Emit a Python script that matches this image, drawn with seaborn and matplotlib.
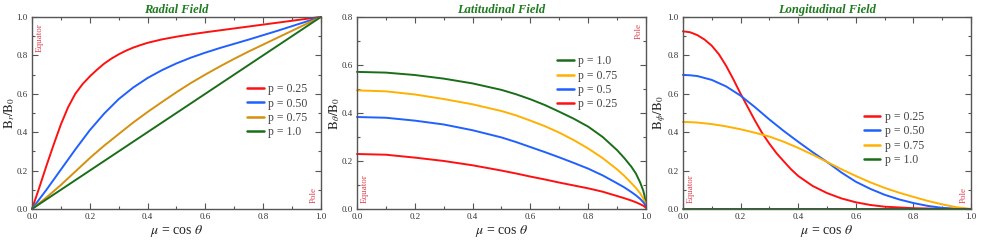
import numpy as np
import pandas as pd
import matplotlib
matplotlib.use('Agg')
import matplotlib.pyplot as plt
import seaborn as sns
from matplotlib.ticker import MultipleLocator

mu = [0.0, 0.025, 0.05, 0.1, 0.15, 0.2, 0.25, 0.3, 0.35, 0.4, 0.45, 0.5, 0.55,
      0.6, 0.65, 0.7, 0.75, 0.8, 0.85, 0.9, 0.95, 1.0]
mu_fine = [0.0, 0.025, 0.05, 0.075, 0.1, 0.125, 0.15, 0.175, 0.2, 0.225, 0.25, 0.275,
           0.3, 0.325, 0.35, 0.375, 0.4, 0.45, 0.5, 0.55, 0.6, 0.65, 0.7, 0.8, 0.9, 1.0]

# radial field
rad_p025 = [0.0, 0.11, 0.225, 0.335, 0.44, 0.53, 0.60, 0.65, 0.69, 0.725, 0.757, 0.783,
            0.805, 0.824, 0.84, 0.853, 0.865, 0.883, 0.897, 0.909, 0.92, 0.93, 0.94, 0.96, 0.98, 1.0]
rad_p050 = [0.0, 0.05, 0.10, 0.205, 0.31, 0.41, 0.497, 0.572, 0.632, 0.682, 0.723, 0.758, 0.788,
            0.814, 0.838, 0.86, 0.882, 0.905, 0.928, 0.952, 0.976, 1.0]
rad_p075 = [0.0, 0.03, 0.06, 0.125, 0.195, 0.265, 0.33, 0.39, 0.45, 0.505, 0.557, 0.608, 0.656,
            0.7, 0.742, 0.782, 0.82, 0.856, 0.892, 0.928, 0.964, 1.0]
rad_p100 = [0.0, 0.025, 0.05, 0.1, 0.15, 0.2, 0.25, 0.3, 0.35, 0.4, 0.45, 0.5, 0.55,
            0.6, 0.65, 0.7, 0.75, 0.8, 0.85, 0.9, 0.95, 1.0]

# latitudinal field (denser near the pole)
mu_lat = [0.0, 0.1, 0.2, 0.3, 0.4, 0.5, 0.55, 0.6, 0.65, 0.7, 0.75, 0.8, 0.85, 0.9, 0.925,
          0.95, 0.965, 0.98, 0.99, 0.995, 1.0]
lat_p100 = [0.571, 0.568, 0.558, 0.543, 0.523, 0.496, 0.478, 0.457, 0.433, 0.405, 0.376,
            0.343, 0.300, 0.245, 0.212, 0.175, 0.148, 0.11, 0.078, 0.055, 0.01]
lat_p075 = [0.494, 0.490, 0.477, 0.458, 0.436, 0.408, 0.39, 0.368, 0.345, 0.318, 0.287,
            0.252, 0.212, 0.165, 0.138, 0.107, 0.088, 0.065, 0.045, 0.032, 0.01]
lat_p050 = [0.383, 0.380, 0.368, 0.352, 0.328, 0.298, 0.279, 0.258, 0.237, 0.215, 0.192,
            0.168, 0.140, 0.107, 0.09, 0.070, 0.057, 0.042, 0.029, 0.021, 0.008]
lat_p025 = [0.229, 0.226, 0.214, 0.200, 0.182, 0.160, 0.148, 0.135, 0.123, 0.110, 0.098,
            0.086, 0.072, 0.054, 0.045, 0.035, 0.028, 0.020, 0.014, 0.01, 0.004]

# longitudinal field
lon_p025 = [0.925, 0.92, 0.905, 0.882, 0.85, 0.805, 0.745, 0.675, 0.60, 0.53, 0.46, 0.395,
            0.34, 0.29, 0.248, 0.207, 0.172, 0.12, 0.083, 0.055, 0.035, 0.021, 0.012, 0.004, 0.001, 0.0]
lon_p050 = [0.698, 0.696, 0.692, 0.672, 0.638, 0.59, 0.53, 0.466, 0.406, 0.35, 0.296, 0.245, 0.19,
            0.142, 0.105, 0.074, 0.05, 0.031, 0.016, 0.006, 0.001, 0.0]
lon_p075 = [0.453, 0.452, 0.45, 0.442, 0.43, 0.415, 0.397, 0.377, 0.35, 0.318, 0.283, 0.245, 0.207,
            0.172, 0.139, 0.11, 0.085, 0.063, 0.042, 0.024, 0.009, 0.0]
lon_p100 = [0.0] * 22

sns.set_style('ticks')
plt.rcParams['font.family'] = ['Liberation Serif', 'DejaVu Serif']
plt.rcParams['mathtext.fontset'] = 'stix'

red, blue, green = '#ff1010', '#2060ff', '#1a6e1a'
gold, orange = '#d4900f', '#ffb000'
edge = '#555555'


def long_df(series):
    rows = []
    for lab, xs, ys in series:
        for xi, yi in zip(xs, ys):
            rows.append({'mu': xi, 'B': yi, 'p': lab})
    return pd.DataFrame(rows)


fig = plt.figure(figsize=(9.81, 2.45), dpi=100)
axes = [fig.add_axes([0.0326, 0.147, 0.2946, 0.784]),
        fig.add_axes([0.3639, 0.147, 0.2946, 0.784]),
        fig.add_axes([0.6962, 0.147, 0.2936, 0.784])]

panels = [
    ('Radial Field', r'$\mathrm{B}_r/\mathrm{B}_0$', 1.0,
     [('p = 0.25', mu_fine, rad_p025), ('p = 0.50', mu, rad_p050),
      ('p = 0.75', mu, rad_p075), ('p = 1.0', mu, rad_p100)],
     [red, blue, gold, green], (0.744, 0.655)),
    ('Latitudinal Field', r'$\mathrm{B}_\theta/\mathrm{B}_0$', 0.8,
     [('p = 1.0', mu_lat, lat_p100), ('p = 0.75', mu_lat, lat_p075),
      ('p = 0.5', mu_lat, lat_p050), ('p = 0.25', mu_lat, lat_p025)],
     [green, orange, blue, red], (0.692, 0.80)),
    ('Longitudinal Field', r'$\mathrm{B}_\phi/\mathrm{B}_0$', 1.0,
     [('p = 0.25', mu_fine, lon_p025), ('p = 0.50', mu, lon_p050),
      ('p = 0.75', mu, lon_p075), ('p = 1.0', mu, lon_p100)],
     [red, blue, orange, green], (0.628, 0.51)),
]

for ax, (title, ylab, ymax, series, cols, legpos) in zip(axes, panels):
    df = long_df(series)
    order = [s[0] for s in series]
    sns.lineplot(data=df, x='mu', y='B', hue='p', hue_order=order,
                 palette=dict(zip(order, cols)), sort=False, lw=1.4,
                 ax=ax, clip_on=False)
    ax.set_xlim(0, 1)
    ax.set_ylim(0, ymax)
    ax.xaxis.set_major_locator(MultipleLocator(0.2))
    ax.xaxis.set_minor_locator(MultipleLocator(0.1))
    ax.yaxis.set_major_locator(MultipleLocator(0.2))
    ax.yaxis.set_minor_locator(MultipleLocator(0.1))
    ax.xaxis.set_major_formatter(plt.FormatStrFormatter('%.1f'))
    ax.yaxis.set_major_formatter(plt.FormatStrFormatter('%.1f'))
    ax.tick_params(which='both', direction='in', top=True, right=True,
                   color=edge, labelsize=6.5, labelcolor='#333333', pad=3)
    ax.tick_params(which='major', length=4, width=0.8)
    ax.tick_params(which='minor', length=2, width=0.8)
    for s in ax.spines.values():
        s.set_color(edge)
        s.set_linewidth(1.0)
    ax.set_xlabel(r'$\mu$ = cos $\theta$', fontsize=10, labelpad=1, color='#222222')
    ax.set_ylabel(ylab, fontsize=9.5, labelpad=0, color='#222222')
    ax.set_title(title, fontsize=9, fontweight='bold', style='italic',
                 color='#1e7b1e', pad=3)
    ax.legend(frameon=False, fontsize=8.5, loc='upper left', bbox_to_anchor=legpos,
              handlelength=1.4, handletextpad=0.4, labelspacing=0.2,
              borderaxespad=0, borderpad=0, labelcolor='#444444')
    for line in ax.get_legend().get_lines():
        line.set_linewidth(1.8)

lab_kw = dict(rotation=90, fontsize=6.5, color='#e04050')
axes[0].text(0.012, 0.97, 'Equator', transform=axes[0].transAxes, ha='left', va='top', **lab_kw)
axes[0].text(0.99, 0.03, 'Pole', transform=axes[0].transAxes, ha='right', va='bottom', **lab_kw)
axes[1].text(0.012, 0.03, 'Equator', transform=axes[1].transAxes, ha='left', va='bottom', **lab_kw)
axes[1].text(0.99, 0.97, 'Pole', transform=axes[1].transAxes, ha='right', va='top', **lab_kw)
axes[2].text(0.012, 0.03, 'Equator', transform=axes[2].transAxes, ha='left', va='bottom', **lab_kw)
axes[2].text(0.99, 0.03, 'Pole', transform=axes[2].transAxes, ha='right', va='bottom', **lab_kw)

fig.savefig('out.png', dpi=100)
